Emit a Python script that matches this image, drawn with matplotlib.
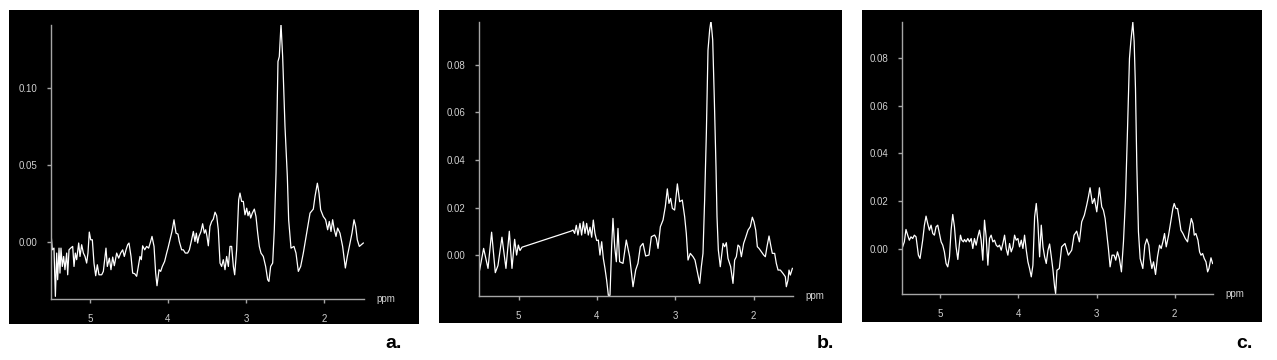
import matplotlib
matplotlib.use("Agg")
import matplotlib.pyplot as plt

# spectrum a: chemical shift (ppm) and signal
ppm_a = [5.500, 5.483, 5.462, 5.444, 5.427, 5.415, 5.397, 5.385, 5.372, 5.355,
         5.338, 5.321, 5.299, 5.286, 5.269, 5.248, 5.222, 5.205, 5.188, 5.171,
         5.145, 5.128, 5.107, 5.085, 5.064, 5.043, 5.026, 5.009, 4.991, 4.970,
         4.949, 4.927, 4.906, 4.885, 4.850, 4.829, 4.795, 4.778, 4.752, 4.731,
         4.709, 4.688, 4.658, 4.632, 4.607, 4.581, 4.560, 4.538, 4.517, 4.500,
         4.474, 4.453, 4.427, 4.402, 4.380, 4.359, 4.342, 4.325, 4.299, 4.274,
         4.248, 4.226, 4.205, 4.179, 4.158, 4.141, 4.115, 4.094, 4.073, 4.043,
         4.017, 4.000, 3.974, 3.949, 3.923, 3.897, 3.872, 3.855, 3.825, 3.803,
         3.778, 3.748, 3.726, 3.697, 3.675, 3.654, 3.637, 3.620, 3.603, 3.577,
         3.556, 3.534, 3.517, 3.500, 3.483, 3.462, 3.440, 3.419, 3.397, 3.376,
         3.355, 3.333, 3.312, 3.291, 3.269, 3.248, 3.226, 3.205, 3.184, 3.162,
         3.145, 3.120, 3.094, 3.077, 3.056, 3.034, 3.013, 2.991, 2.974, 2.957,
         2.940, 2.919, 2.893, 2.872, 2.850, 2.829, 2.808, 2.778, 2.748, 2.722,
         2.706, 2.684, 2.658, 2.637, 2.615, 2.598, 2.590, 2.573, 2.551, 2.530,
         2.500, 2.470, 2.453, 2.423, 2.385, 2.359, 2.329, 2.299, 2.265, 2.222,
         2.179, 2.137, 2.115, 2.085, 2.064, 2.043, 2.009, 1.979, 1.953, 1.932,
         1.910, 1.889, 1.868, 1.846, 1.825, 1.795, 1.761, 1.726, 1.701, 1.667,
         1.641, 1.615, 1.594, 1.573, 1.547, 1.521, 1.496]
sig_a = [0.0058, -0.0050, -0.0039, -0.0352, -0.0071, -0.0244, -0.0039, -0.0201, -0.0039, -0.0158,
         -0.0093, -0.0179, -0.0071, -0.0212, -0.0050, -0.0039, -0.0028, -0.0158, -0.0071, -0.0114,
         -0.0006, -0.0093, -0.0017, -0.0071, -0.0093, -0.0136, -0.0071, 0.0065, 0.0015, 0.0015,
         -0.0136, -0.0218, -0.0147, -0.0212, -0.0212, -0.0190, -0.0039, -0.0158, -0.0104, -0.0179,
         -0.0097, -0.0153, -0.0071, -0.0104, -0.0071, -0.0050, -0.0093, -0.0050, -0.0017, -0.0006,
         -0.0093, -0.0201, -0.0205, -0.0222, -0.0158, -0.0093, -0.0114, -0.0024, -0.0050, -0.0028,
         -0.0039, -0.0002, 0.0037, -0.0028, -0.0201, -0.0283, -0.0179, -0.0190, -0.0158, -0.0125,
         -0.0071, -0.0039, 0.0015, 0.0069, 0.0145, 0.0058, 0.0052, 0.0004, -0.0050, -0.0050,
         -0.0071, -0.0071, -0.0050, 0.0015, 0.0069, 0.0004, 0.0058, -0.0006, 0.0037, 0.0069,
         0.0119, 0.0058, 0.0080, 0.0037, -0.0024, 0.0102, 0.0134, 0.0149, 0.0194, 0.0171,
         0.0080, -0.0136, -0.0158, -0.0114, -0.0179, -0.0093, -0.0158, -0.0028, -0.0028, -0.0158,
         -0.0212, -0.0050, 0.0274, 0.0318, 0.0264, 0.0264, 0.0177, 0.0220, 0.0171, 0.0199,
         0.0156, 0.0188, 0.0214, 0.0166, 0.0058, -0.0028, -0.0071, -0.0093, -0.0158, -0.0244,
         -0.0255, -0.0158, -0.0136, 0.0080, 0.0447, 0.0922, 0.1171, 0.1203, 0.1415, 0.1203,
         0.0750, 0.0426, 0.0145, -0.0039, -0.0028, -0.0071, -0.0190, -0.0158, -0.0071, 0.0058,
         0.0188, 0.0214, 0.0296, 0.0382, 0.0318, 0.0210, 0.0166, 0.0145, 0.0080, 0.0134,
         0.0069, 0.0145, 0.0080, 0.0037, 0.0091, 0.0058, -0.0028, -0.0168, -0.0093, -0.0006,
         0.0058, 0.0145, 0.0102, 0.0015, -0.0028, -0.0017, -0.0006]

# spectrum b
ppm_b = [5.498, 5.447, 5.391, 5.345, 5.298, 5.264, 5.213, 5.162, 5.119, 5.085,
         5.051, 5.026, 5.004, 4.983, 4.957, 4.328, 4.306, 4.285, 4.264, 4.243,
         4.217, 4.196, 4.174, 4.153, 4.132, 4.111, 4.089, 4.068, 4.047, 4.026,
         4.004, 3.983, 3.962, 3.940, 3.919, 3.898, 3.877, 3.855, 3.834, 3.813,
         3.796, 3.774, 3.753, 3.732, 3.711, 3.668, 3.626, 3.583, 3.540, 3.506,
         3.477, 3.447, 3.413, 3.379, 3.336, 3.306, 3.264, 3.243, 3.221, 3.191,
         3.157, 3.128, 3.102, 3.081, 3.060, 3.038, 3.009, 2.974, 2.945, 2.911,
         2.881, 2.860, 2.838, 2.809, 2.774, 2.749, 2.723, 2.689, 2.668, 2.647,
         2.626, 2.604, 2.583, 2.562, 2.545, 2.523, 2.502, 2.481, 2.468, 2.451,
         2.426, 2.391, 2.370, 2.349, 2.328, 2.294, 2.264, 2.243, 2.221, 2.200,
         2.179, 2.157, 2.128, 2.106, 2.072, 2.043, 2.017, 1.996, 1.974, 1.953,
         1.932, 1.902, 1.872, 1.851, 1.830, 1.804, 1.783, 1.762, 1.732, 1.711,
         1.689, 1.660, 1.626, 1.596, 1.583, 1.562, 1.549, 1.532, 1.506]
sig_b = [-0.0062, 0.0029, -0.0055, 0.0097, -0.0073, -0.0043, 0.0076, -0.0055, 0.0101, -0.0055,
         0.0067, 0.0001, 0.0043, 0.0020, 0.0034, 0.0102, 0.0106, 0.0092, 0.0126, 0.0085,
         0.0134, 0.0085, 0.0141, 0.0092, 0.0134, 0.0085, 0.0118, 0.0076, 0.0148, 0.0092,
         0.0062, 0.0064, 0.0001, 0.0057, -0.0013, -0.0055, -0.0104, -0.0168, -0.0168, 0.0036,
         0.0155, 0.0036, -0.0027, 0.0113, -0.0027, -0.0034, 0.0064, -0.0006, -0.0132, -0.0062,
         -0.0034, 0.0036, 0.0050, -0.0003, 0.0001, 0.0078, 0.0085, 0.0071, 0.0029, 0.0120,
         0.0148, 0.0204, 0.0279, 0.0218, 0.0239, 0.0197, 0.0190, 0.0300, 0.0225, 0.0232,
         0.0162, 0.0092, -0.0020, 0.0008, -0.0006, -0.0020, -0.0062, -0.0118, -0.0048, 0.0008,
         0.0232, 0.0512, 0.0862, 0.0946, 0.0986, 0.0904, 0.0652, 0.0372, 0.0162, 0.0022,
         -0.0048, 0.0050, 0.0036, 0.0053, -0.0013, -0.0048, -0.0118, -0.0020, -0.0006, 0.0043,
         0.0036, -0.0006, 0.0050, 0.0071, 0.0106, 0.0120, 0.0160, 0.0141, 0.0106, 0.0036,
         0.0029, 0.0015, 0.0001, -0.0006, 0.0036, 0.0081, 0.0043, 0.0008, 0.0008, -0.0034,
         -0.0062, -0.0062, -0.0076, -0.0090, -0.0132, -0.0104, -0.0062, -0.0083, -0.0055]

# spectrum c
ppm_c = [5.484, 5.462, 5.441, 5.419, 5.398, 5.377, 5.355, 5.334, 5.312, 5.282,
         5.261, 5.227, 5.205, 5.184, 5.163, 5.141, 5.120, 5.098, 5.077, 5.056,
         5.034, 5.013, 4.991, 4.970, 4.949, 4.927, 4.906, 4.884, 4.863, 4.842,
         4.820, 4.799, 4.777, 4.756, 4.743, 4.726, 4.705, 4.692, 4.671, 4.649,
         4.628, 4.606, 4.585, 4.564, 4.542, 4.521, 4.499, 4.478, 4.457, 4.435,
         4.414, 4.392, 4.371, 4.350, 4.328, 4.307, 4.285, 4.264, 4.243, 4.221,
         4.200, 4.178, 4.157, 4.136, 4.114, 4.093, 4.071, 4.050, 4.029, 4.007,
         3.986, 3.964, 3.943, 3.922, 3.900, 3.879, 3.858, 3.836, 3.815, 3.793,
         3.772, 3.751, 3.729, 3.708, 3.686, 3.665, 3.644, 3.622, 3.601, 3.579,
         3.558, 3.537, 3.524, 3.507, 3.477, 3.447, 3.404, 3.361, 3.318, 3.288,
         3.254, 3.220, 3.190, 3.156, 3.126, 3.104, 3.083, 3.053, 3.027, 2.997,
         2.963, 2.933, 2.912, 2.890, 2.869, 2.848, 2.826, 2.801, 2.775, 2.754,
         2.732, 2.707, 2.681, 2.655, 2.629, 2.604, 2.578, 2.561, 2.535, 2.518,
         2.501, 2.484, 2.463, 2.441, 2.407, 2.381, 2.356, 2.330, 2.313, 2.291,
         2.270, 2.244, 2.219, 2.193, 2.172, 2.150, 2.129, 2.107, 2.077, 2.056,
         2.022, 2.005, 1.983, 1.962, 1.941, 1.919, 1.893, 1.863, 1.834, 1.808,
         1.786, 1.765, 1.748, 1.727, 1.701, 1.680, 1.662, 1.641, 1.620, 1.598,
         1.577, 1.560, 1.534, 1.513]
sig_c = [0.0008, 0.0029, 0.0081, 0.0057, 0.0036, 0.0050, 0.0043, 0.0057, 0.0050, -0.0027,
         -0.0041, 0.0036, 0.0099, 0.0137, 0.0106, 0.0078, 0.0099, 0.0064, 0.0057, 0.0092,
         0.0099, 0.0064, 0.0029, 0.0015, -0.0013, -0.0062, -0.0076, -0.0034, 0.0078, 0.0144,
         0.0092, 0.0008, -0.0045, 0.0022, 0.0057, 0.0036, 0.0029, 0.0039, 0.0029, 0.0043,
         0.0029, 0.0043, 0.0001, 0.0043, 0.0015, 0.0050, 0.0078, 0.0036, -0.0048, 0.0120,
         0.0050, -0.0069, 0.0043, 0.0057, 0.0029, 0.0036, 0.0015, 0.0008, 0.0015, -0.0006,
         0.0022, 0.0057, 0.0001, -0.0027, 0.0022, -0.0013, 0.0008, 0.0057, 0.0036, 0.0043,
         0.0008, 0.0036, 0.0001, 0.0057, -0.0006, -0.0055, -0.0083, -0.0118, -0.0069, 0.0134,
         0.0190, 0.0106, -0.0034, 0.0099, 0.0008, -0.0034, -0.0062, -0.0006, 0.0020, -0.0034,
         -0.0090, -0.0160, -0.0188, -0.0090, -0.0083, 0.0008, 0.0022, -0.0027, -0.0006, 0.0057,
         0.0074, 0.0029, 0.0113, 0.0141, 0.0183, 0.0218, 0.0256, 0.0190, 0.0211, 0.0155,
         0.0256, 0.0176, 0.0162, 0.0127, 0.0064, 0.0001, -0.0076, -0.0027, -0.0027, -0.0048,
         -0.0013, -0.0041, -0.0097, 0.0029, 0.0211, 0.0491, 0.0799, 0.0869, 0.0951, 0.0869,
         0.0673, 0.0351, 0.0071, -0.0041, -0.0083, 0.0015, 0.0041, 0.0015, -0.0041, -0.0083,
         -0.0055, -0.0108, -0.0034, 0.0015, 0.0001, 0.0029, 0.0064, 0.0008, 0.0057, 0.0099,
         0.0169, 0.0190, 0.0169, 0.0169, 0.0127, 0.0078, 0.0064, 0.0043, 0.0029, 0.0085,
         0.0127, 0.0106, 0.0057, 0.0064, 0.0036, -0.0013, -0.0027, -0.0020, -0.0041, -0.0055,
         -0.0097, -0.0083, -0.0038, -0.0062]

x_ticks = [5, 4, 3, 2]
y_ticks_a = [0.00, 0.05, 0.10]
y_ticks_bc = [0.00, 0.02, 0.04, 0.06, 0.08]
labels = ["a.", "b.", "c."]

W, H = 1277, 360
AXIS_COL = "#a6a6a6"
TEXT_COL = "#d0d0d0"


def px_rect(x0, y0, x1, y1):
    # pixel box (top-left origin) -> figure fraction rect
    return [x0 / W, 1 - y1 / H, (x1 - x0) / W, (y1 - y0) / H]


def draw_panel(fig, box, inner, ppm, sig, xlim, ylim, yticks, label, label_x):
    bg = fig.add_axes(px_rect(*box))
    bg.set_facecolor("black")
    bg.set_xticks([])
    bg.set_yticks([])
    for s in bg.spines.values():
        s.set_visible(False)

    ax = fig.add_axes(px_rect(*inner))
    ax.patch.set_alpha(0)
    ax.plot(ppm, sig, color="white", lw=0.9)
    ax.set_xlim(*xlim)
    ax.set_ylim(*ylim)
    ax.set_xticks(x_ticks)
    ax.set_xticklabels([str(t) for t in x_ticks])
    ax.set_yticks(yticks)
    ax.set_yticklabels([f"{t:.2f}" for t in yticks])
    for side in ["top", "right"]:
        ax.spines[side].set_visible(False)
    for side in ["left", "bottom"]:
        ax.spines[side].set_color(AXIS_COL)
        ax.spines[side].set_linewidth(1.0)
    ax.tick_params(colors=AXIS_COL, labelcolor=TEXT_COL, labelsize=7,
                   length=3, width=1.0)
    ax.tick_params(axis="x", pad=8)
    ax.tick_params(axis="y", pad=7)
    ax.text(1.04, 0, "ppm", transform=ax.transAxes, color=TEXT_COL,
            fontsize=7, ha="left", va="center")

    fig.text(label_x / W, 1 - 348 / H, label, color="black", fontsize=14,
             fontweight="bold", ha="center", va="baseline")
    return ax


def make_figure():
    plt.rcParams["font.family"] = ["Liberation Sans", "DejaVu Sans"]
    fig = plt.figure(figsize=(W / 100, H / 100), dpi=100, facecolor="white")

    draw_panel(fig, (9, 10, 419, 324), (51, 25, 364, 299), ppm_a, sig_a,
               (5.5, 1.487), (-0.0369, 0.1408), y_ticks_a, labels[0], 394)
    draw_panel(fig, (439, 10, 842, 323), (479, 22, 793, 296), ppm_b, sig_b,
               (5.506, 1.498), (-0.0171, 0.098), y_ticks_bc, labels[1], 825)
    draw_panel(fig, (862, 10, 1262, 322), (902, 22, 1213, 294), ppm_c, sig_c,
               (5.492, 1.508), (-0.019, 0.0952), y_ticks_bc, labels[2], 1244)

    fig.savefig("out.png", dpi=100, facecolor="white")


if __name__ == "__main__":
    make_figure()
